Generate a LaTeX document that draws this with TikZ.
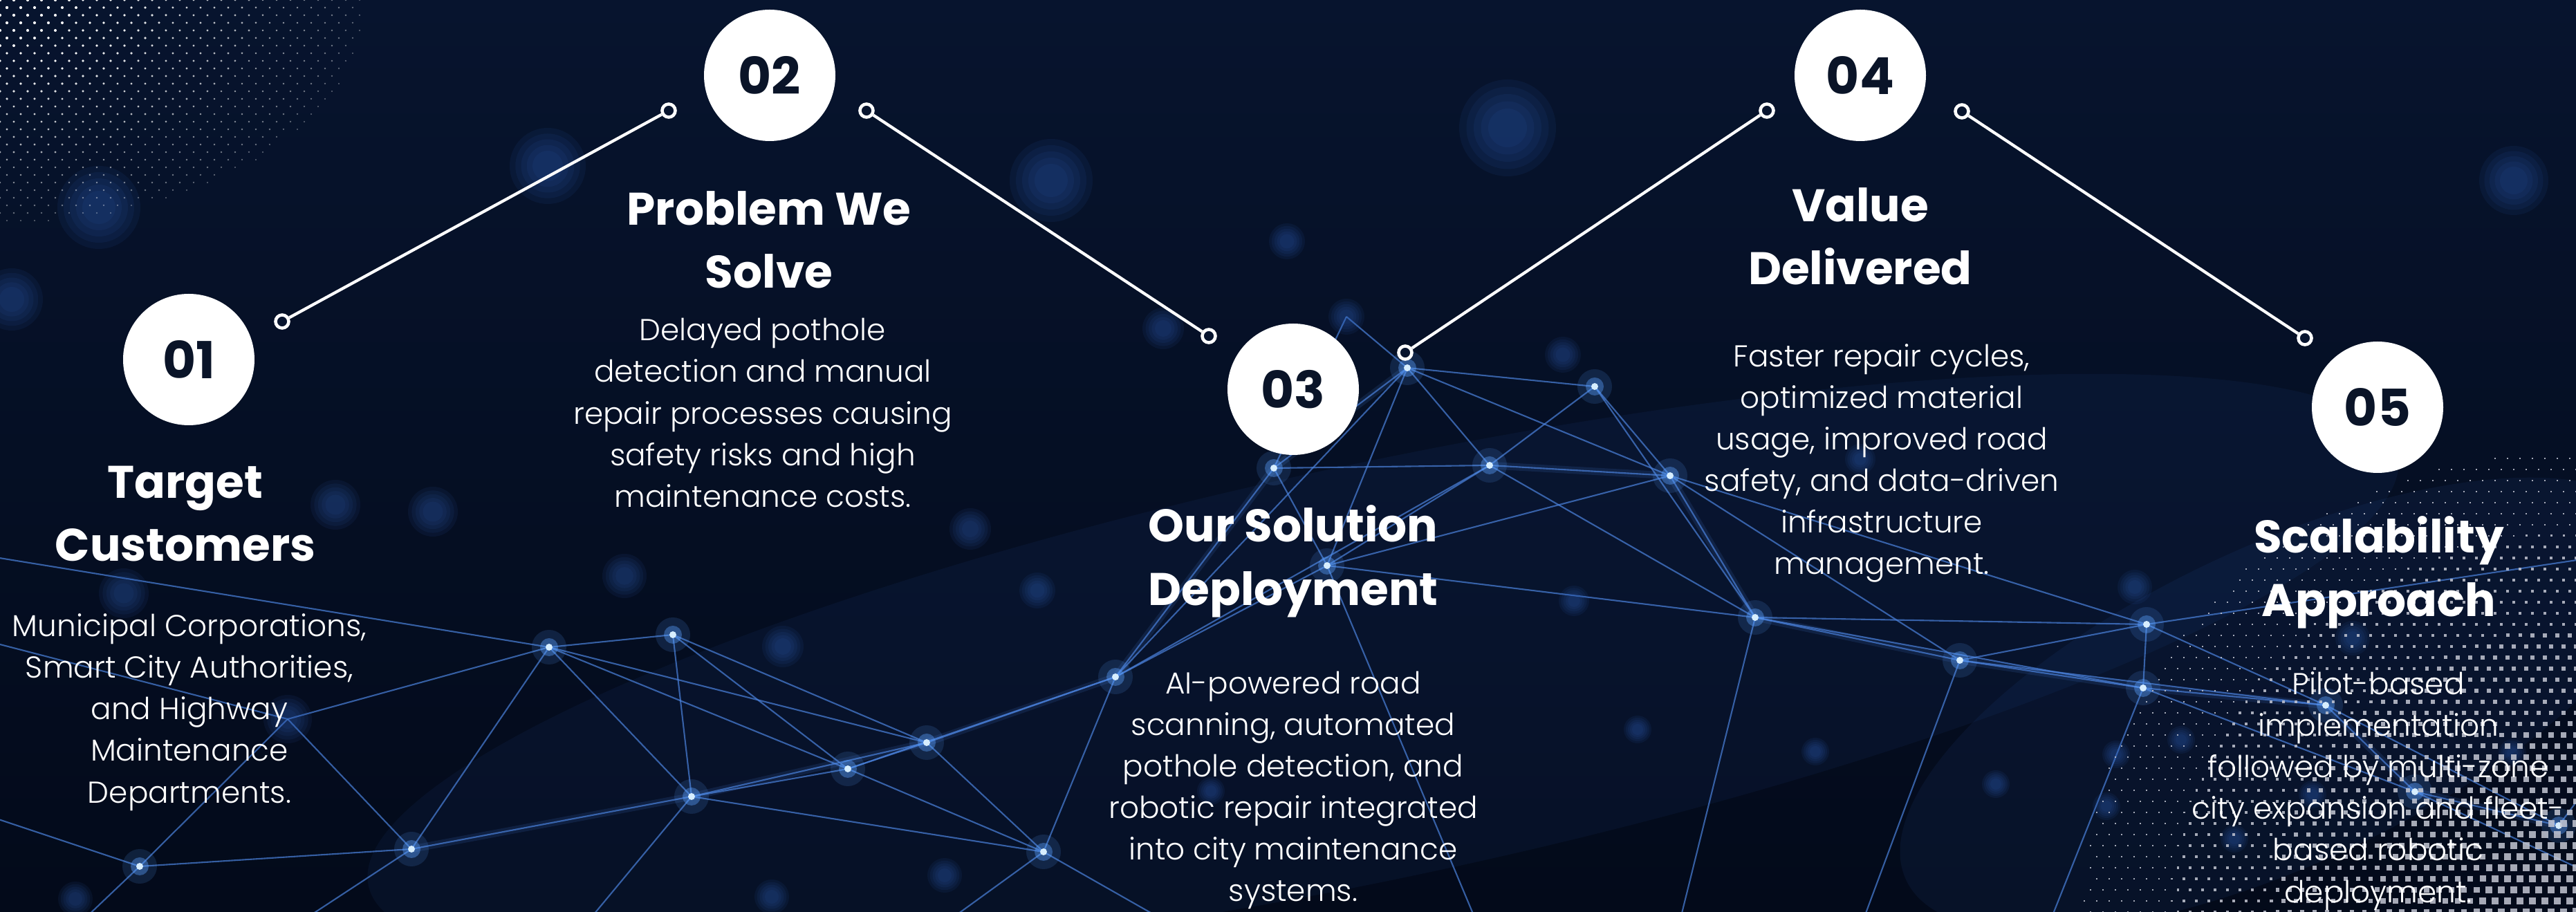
\documentclass[tikz,border=0pt]{standalone}
\usepackage{fontspec}
\setmainfont{Poppins}
\newfontfamily\lightfont{Poppins Light}
\usetikzlibrary{positioning}
\definecolor{bgtop}{RGB}{7,20,46}
\definecolor{bgbot}{RGB}{3,10,26}
\definecolor{numnavy}{RGB}{10,20,40}
\definecolor{netblue}{RGB}{75,130,220}
\definecolor{glowblue}{RGB}{90,160,255}
\definecolor{coreblue}{RGB}{215,238,255}
\definecolor{blobblue}{RGB}{50,100,190}
\definecolor{dotgrey}{RGB}{195,198,210}
\tikzset{
    numnode/.style = {circle, fill=white, minimum size=1.9cm, inner sep=0pt, text=numnavy, font=\fontsize{21}{21}\selectfont\bfseries},
    ringnode/.style = {circle, draw=white, line width=1.3pt, fill=bgtop, minimum size=0.19cm, inner sep=0pt},
    titletext/.style = {align=center, text=white, inner sep=0pt, font=\fontsize{18.8}{26}\selectfont\bfseries},
    bodytext/.style = {align=center, text=white, inner sep=0pt, font=\lightfont\fontsize{12.45}{17.1}\selectfont},
    edgel/.style = {-, line width=1.2pt, white},
    netline/.style = {netblue, line width=0.6pt, opacity=0.7},
    nethaze/.style = {netblue, line width=3pt, opacity=0.14}
}
% soft out of focus light
\newcommand{\bokeh}[3]{%
  \foreach \k in {1,0.85,0.7,0.55,0.4}
    {\fill[blobblue, opacity=.09] (#1,#2) circle ({\k*#3});}
}

\begin{document}
\begin{tikzpicture}
\useasboundingbox (0,0) rectangle (37.25,13.19);

\begin{scope}
  \clip (0,0) rectangle (37.25,13.19);
  \shade[top color=bgtop, bottom color=bgbot] (0,0) rectangle (37.25,13.19);
  % haze along the network
  \fill[blobblue, opacity=.08, rotate around={12:(20,3.5)}] (20,3.5) ellipse (15 and 3);
  \fill[blobblue, opacity=.09, rotate around={25:(33,3)}] (33,3) ellipse (6 and 2.3);

  % network points
  \coordinate (n1) at (2.02,0.66);
  \coordinate (n2) at (5.95,0.91);
  \coordinate (n3) at (7.94,3.83);
  \coordinate (n4) at (9.73,4.01);
  \coordinate (n5) at (10.00,1.67);
  \coordinate (n6) at (12.26,2.07);
  \coordinate (n7) at (13.40,2.45);
  \coordinate (n8) at (16.13,3.40);
  \coordinate (n9) at (18.42,6.42);
  \coordinate (n10) at (19.19,5.01);
  \coordinate (n11) at (20.35,7.87);
  \coordinate (n12) at (21.54,6.46);
  \coordinate (n13) at (23.06,7.60);
  \coordinate (n14) at (24.15,6.31);
  \coordinate (n15) at (25.38,4.26);
  \coordinate (n16) at (28.34,3.64);
  \coordinate (n17) at (31.04,4.16);
  \coordinate (n18) at (30.99,3.24);
  \coordinate (n19) at (33.63,2.99);
  \coordinate (n20) at (34.92,1.74);
  \coordinate (n21) at (37.00,1.25);
  \coordinate (n22) at (15.09,0.87);
  \coordinate (n23) at (4.16,2.79);
  \coordinate (n24) at (19.47,8.61);
  % points off the page
  \coordinate (o1) at (-0.5,1.5);
  \coordinate (o2) at (0.8,-0.5);
  \coordinate (o3) at (-0.5,4.0);
  \coordinate (o4) at (-0.5,5.2);
  \coordinate (o5) at (3.8,-0.5);
  \coordinate (o6) at (8.2,-0.5);
  \coordinate (o7) at (13.2,-0.5);
  \coordinate (o8) at (17.5,-0.5);
  \coordinate (o9) at (26.8,-0.5);
  \coordinate (o10) at (29.5,-0.5);
  \coordinate (o11) at (38,2.6);
  \coordinate (o12) at (38,0.3);
  \coordinate (o13) at (21.5,-0.5);
  \coordinate (o14) at (24.2,-0.5);
  \coordinate (o15) at (38,5.2);

  \foreach \a/\b in {n1/n2, n1/n23, n2/n23, n2/n3, n2/n5, n3/n5, n3/n4, n4/n5, n4/n6,
      n3/n7, n5/n6, n5/n7, n6/n7, n6/n8, n7/n8, n7/n22, n6/n22, n8/n22, n8/n9,
      n8/n10, n9/n10, n9/n11, n9/n12, n10/n12, n11/n12, n11/n13, n12/n13, n11/n14,
      n12/n14, n13/n14, n14/n15, n12/n15, n10/n15, n15/n16, n14/n16, n16/n17,
      n16/n18, n17/n18, n17/n19, n18/n19, n19/n20, n18/n20, n20/n21, n19/n21,
      n15/n17, n9/n24, n11/n24, n23/n3, n1/o1, n1/o2, n23/o3, n3/o4, n2/o5,
      n5/o6, n22/o7, n22/o8, n16/o9, n18/o10, n21/o11, n20/o12, n8/n11, n10/n11,
      n8/n12, n10/n14, n13/n15, n15/n18, n14/n17, n3/n6, n4/n7, n5/n22, n10/o13,
      n15/o14, n17/o15, n16/n19}
    \draw[netline] (\a) -- (\b);
  \foreach \a/\b in {n2/n5, n5/n7, n7/n8, n8/n9, n9/n11, n12/n14, n14/n15, n15/n16, n16/n18, n18/n19, n19/n20, n20/n21}
    \draw[nethaze] (\a) -- (\b);

  % blurred lights
  \foreach \x/\y/\r in {7.92/10.79/0.55, 1.43/10.19/0.6, 0.17/8.86/0.45, 4.85/5.89/0.36,
      6.26/5.79/0.36, 1.79/4.61/0.36, 9.03/4.86/0.32, 14.03/5.54/0.3, 15.00/4.65/0.26,
      16.82/8.44/0.3, 19.47/8.61/0.26, 18.61/9.70/0.26, 22.60/8.06/0.26, 26.90/6.55/0.22,
      22.76/4.50/0.22, 23.68/2.64/0.2, 26.25/2.32/0.2, 28.86/1.85/0.2, 30.60/2.28/0.2,
      31.54/2.49/0.2, 30.87/4.70/0.25, 33.44/1.70/0.2, 1.09/0.19/0.25, 11.16/0.22/0.25,
      13.66/0.53/0.25, 17.51/1.75/0.2, 4.16/2.79/0.35, 11.32/3.84/0.3, 15.20/10.58/0.6,
      21.80/11.34/0.7, 36.35/10.58/0.5, 34.02/3.96/0.25, 36.33/2.30/0.2, 30.46/1.53/0.2,
      32.31/1.06/0.2}
    {\bokeh{\x}{\y}{\r}}

  % bright points
  \foreach \p in {n1,n2,n3,n4,n5,n6,n7,n8,n9,n10,n11,n12,n13,n14,n15,n16,n17,n18,n19,n20,n21,n22}{
    \fill[glowblue, opacity=.15] (\p) circle (0.25);
    \fill[glowblue, opacity=.4] (\p) circle (0.13);
    \fill[coreblue] (\p) circle (0.05);
  }

  % halftone dots, top left
  \foreach \i in {0,...,27}{
    \foreach \j in {0,...,30}{
      \pgfmathsetmacro{\dx}{\i*0.2+mod(\j,2)*0.1}
      \pgfmathsetmacro{\dy}{\j*0.11}
      \pgfmathsetmacro{\rn}{1-sqrt((\dx/5.4)^2+(\dy/3.3)^2)}
      \ifdim\rn pt>0.02pt
        \pgfmathsetmacro{\op}{min(1,0.35+0.9*\rn)}
        \fill[white, opacity=\op] (\dx,13.19-\dy) circle ({0.012+0.01*\rn});
      \fi
    }
  }
  % halftone dots, bottom right
  \foreach \i in {0,...,46}{
    \foreach \j in {0,...,48}{
      \pgfmathsetmacro{\dx}{\i*0.18+mod(\j,2)*0.09}
      \pgfmathsetmacro{\dy}{\j*0.16}
      \pgfmathsetmacro{\hs}{0.055*(1-sqrt((\dx/8.0)^2+(\dy/7.5)^2))}
      \ifdim\hs pt>0.006pt
        \fill[dotgrey, opacity=.85] ({37.25-\dx-\hs},{\dy-\hs}) rectangle ++({2*\hs},{2*\hs});
      \fi
    }
  }
\end{scope}

% steps
\node[numnode] (c01) at (2.73,7.99) {01};
\node[numnode] (c02) at (11.13,12.10) {02};
\node[numnode] (c03) at (18.70,7.56) {03};
\node[numnode] (c04) at (26.90,12.10) {04};
\node[numnode] (c05) at (34.38,7.30) {05};

\node[ringnode] (ra1) at (4.08,8.54) {};
\node[ringnode] (rb1) at (9.67,11.59) {};
\node[ringnode] (ra2) at (12.53,11.59) {};
\node[ringnode] (rb2) at (17.48,8.33) {};
\node[ringnode] (ra3) at (20.32,8.09) {};
\node[ringnode] (rb3) at (25.55,11.59) {};
\node[ringnode] (ra4) at (28.37,11.58) {};
\node[ringnode] (rb4) at (33.33,8.30) {};

\draw[edgel] (ra1) -- (rb1);
\draw[edgel] (ra2) -- (rb2);
\draw[edgel] (ra3) -- (rb3);
\draw[edgel] (ra4) -- (rb4);

\node[titletext] (t01) at (2.68,5.76) {Target\\Customers};
\node[titletext] (t02) at (11.12,9.72) {Problem We\\Solve};
\node[titletext] (t03) at (18.70,5.07) {Our Solution\\Deployment};
\node[titletext] (t04) at (26.90,9.77) {Value\\Delivered};
\node[titletext] (t05) at (34.40,4.91) {Scalability\\Approach};

\node[bodytext] (d01) at (2.74,2.89) {Municipal Corporations,\\Smart City Authorities,\\and Highway\\Maintenance\\Departments.};
\node[bodytext] (d02) at (11.03,7.22) {Delayed pothole\\detection and manual\\repair processes causing\\safety risks and high\\maintenance costs.};
\node[bodytext] (d03) at (18.70,1.76) {AI-powered road\\scanning, automated\\pothole detection, and\\robotic repair integrated\\into city maintenance\\systems.};
\node[bodytext] (d04) at (27.21,6.49) {Faster repair cycles,\\optimized material\\usage, improved road\\safety, and data-driven\\infrastructure\\management.};
\node[bodytext] (d05) at (34.39,1.75) {Pilot-based\\implementation\\followed by multi-zone\\city expansion and fleet-\\based robotic\\deployment.};

\end{tikzpicture}
\end{document}
